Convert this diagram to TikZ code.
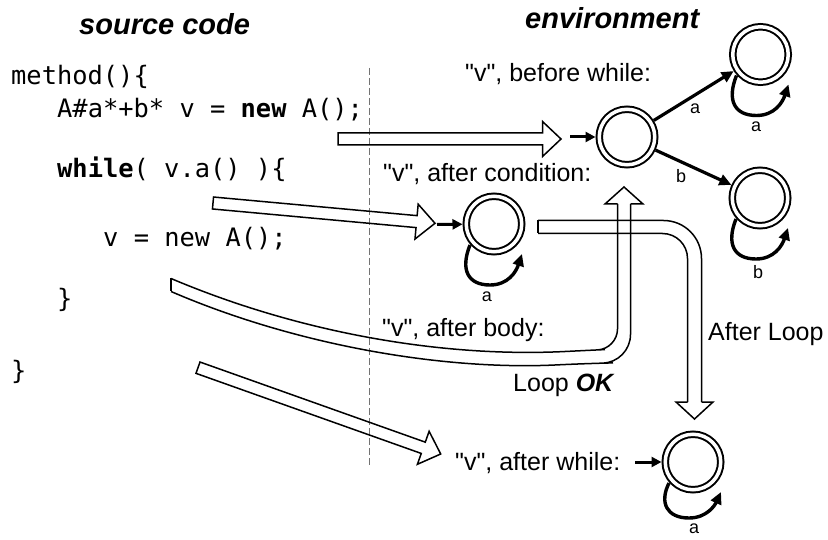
\documentclass[tikz,border=0pt]{standalone}
\usepackage{fontspec}
\setmainfont{Liberation Sans}[Ligatures=TeXOff]
\newfontfamily\codefont{DejaVu Sans Mono}
\usetikzlibrary{arrows.meta,calc}

\tikzset{
  heading/.style={font=\fontsize{29}{34}\selectfont\bfseries\itshape, inner sep=0pt, anchor=base west},
  code/.style={font=\codefont\fontsize{25.4}{30}\selectfont, inner sep=0pt, anchor=base west},
  lbl/.style={font=\fontsize{25}{30}\selectfont, inner sep=0pt, anchor=base west},
  small/.style={font=\fontsize{18}{21}\selectfont, inner sep=0pt},
  state/.style={circle, draw, double, line width=2pt, double distance=3.5pt,
                minimum size=55.5pt, inner sep=0pt, outer sep=3.75pt},
  trans/.style={line width=3.2pt, -{Triangle[length=12pt,width=11pt]}},
  entry/.style={line width=3pt, -{Triangle[length=10pt,width=10pt]}},
  loopline/.style={line width=3.4pt, -{Triangle[length=12pt,width=11pt]}},
  hollowline/.style={line width=1.5pt, line join=miter},
  divider/.style={line width=1.4pt, black!55, dash pattern=on 7pt off 3pt}
}

% outline of a wide arrow from tail #1 to tip #2
\newcommand\hollowarrow[2]{%
  \draw[hollowline]
    ($(#1)!6pt!90:(#2)$) --
    ($(#2)!18.5pt!(#1)!6pt!90:(#2)$) --
    ($(#2)!18.5pt!(#1)!17.5pt!90:(#2)$) --
    (#2) --
    ($(#2)!18.5pt!(#1)!17.5pt!-90:(#2)$) --
    ($(#2)!18.5pt!(#1)!6pt!-90:(#2)$) --
    ($(#1)!6pt!-90:(#2)$) -- cycle;}

% self loop hanging below state #1, lowest point #2 below its centre
\newcommand\selfloop[2]{%
  \draw[loopline] ($(#1)+(-24,21)$) .. controls ($(#1)+(-34,#2-15)$) and ($(#1)+(-26,#2)$) ..
    ($(#1)+(-4,#2)$) .. controls ($(#1)+(14,#2)$) and ($(#1)+(22,#2-13)$) .. ($(#1)+(28,30)$);}

\begin{document}
\begin{tikzpicture}[x=1pt,y=-1pt]
\useasboundingbox (0,0) rectangle (828,540);
\fill[white] (0,0) rectangle (828,540);

% headings
\node[heading] (hsrc) at (79,35) {source code};
\node[heading] (henv) at (525,28.3) {environment};

% source code
\node[code] (c1) at (11,85) {method()\{};
\node[code] (c2) at (57,118) {A\#a*+b* v = \textbf{new} A();};
\node[code] (c3) at (57,178) {\textbf{while}( v.a() )\{};
\node[code] (c4) at (103,246.5) {v = new A();};
\node[code] (c5) at (57,308) {\}};
\node[code] (c6) at (11,379) {\}};

% divider
\coordinate (dtop) at (369.5,68);
\coordinate (dbot) at (369.5,467);
\draw[divider] (dtop) -- (dbot);

% environment labels
\node[lbl] (lbw) at (465,81.5) {"v", before while:};
\node[lbl] (lac) at (383,181.5) {"v", after condition:};
\node[lbl] (lab) at (382,336.5) {"v", after body:};
\node[lbl] (lok) at (513,391) {Loop \textbf{\textit{OK}}};
\node[lbl] (lal) at (708,340.5) {After Loop};
\node[lbl] (law) at (455,470.5) {"v", after while:};

% automata states
\node[state] (s0) at (627,137) {};
\node[state] (s1) at (760.5,54.5) {};
\node[state] (s2) at (760,198) {};
\node[state] (s3) at (494,224) {};
\node[state] (s4) at (693,462) {};

% initial arrows
\coordinate (e0) at (570,137);
\coordinate (e3) at (437,224.5);
\coordinate (e4) at (635,462);
\draw[entry] (e0) -- (s0);
\draw[entry] (e3) -- (s3);
\draw[entry] (e4) -- (s4);

% transitions
\draw[trans] (s0) -- (s1);
\draw[trans] (s0) -- (s2);
\node[small] (ta) at (695,109) {a};
\node[small] (tb) at (681,176) {b};

% self loops
\selfloop{s1}{61}
\selfloop{s2}{61}
\selfloop{s3}{61}
\selfloop{s4}{56}
\node[small] (l1) at (756,127) {a};
\node[small] (l2) at (758,272) {b};
\node[small] (l3) at (487,297) {a};
\node[small] (l4) at (694,529) {a};

% straight wide arrows from the code to the environments
\coordinate (h1a) at (338,139);   \coordinate (h1b) at (561,139);
\coordinate (h2a) at (213,203);   \coordinate (h2b) at (435,223.3);
\coordinate (h3a) at (198,367.7); \coordinate (h3b) at (440.7,454);
\hollowarrow{h1a}{h1b}
\hollowarrow{h2a}{h2b}
\hollowarrow{h3a}{h3b}

% wide arrow: loop body back to the state before the loop
\draw[hollowline] (171,278.5) -- (171,291.5);
\draw[hollowline, rounded corners=20pt] (171,278.5) .. controls (302,334) and (445,357.5) ..
  (585,350.5) -- (617.5,349) -- (617.5,204);
\draw[hollowline] (617.5,204) -- (605,204) -- (624,187) -- (643,204) -- (630.5,204);
\draw[hollowline, rounded corners=28pt] (630.5,204) -- (630.5,362.5) -- (585,363.5)
  .. controls (445,370.5) and (297.5,346) .. (171,291.5);

% wide arrow: state after the condition to the state after the loop
\draw[hollowline] (538,220.5) -- (538,233.5);
\draw[hollowline, rounded corners=38pt] (538,220.5) -- (701.5,220.5) -- (701.5,402);
\draw[hollowline, rounded corners=25pt] (538,233.5) -- (687.5,233.5) -- (687.5,402);
\draw[hollowline] (687.5,402) -- (676,402) -- (694.5,419) -- (713,402) -- (701.5,402);
\end{tikzpicture}
\end{document}
